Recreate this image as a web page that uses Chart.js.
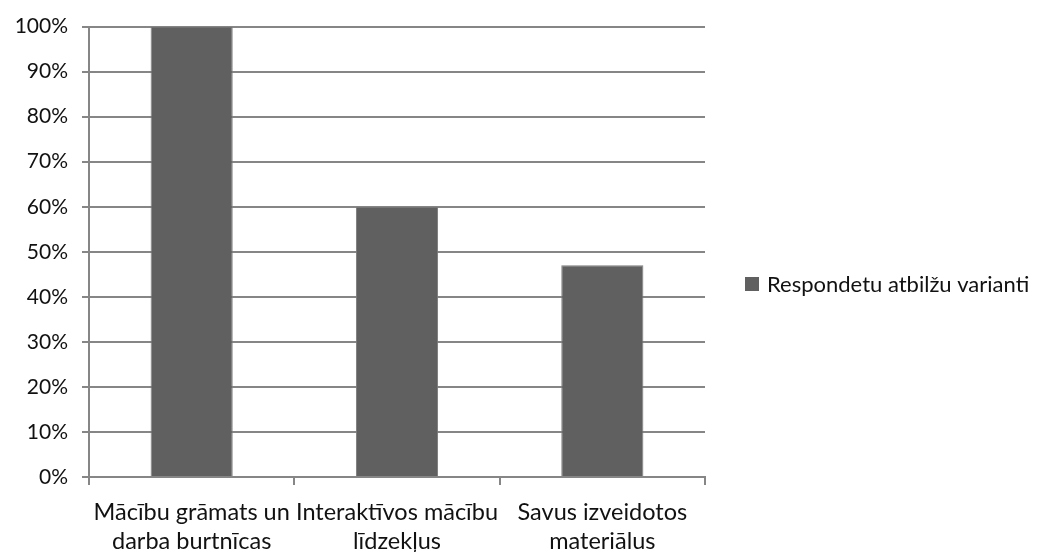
<!DOCTYPE html>
<html>
<head>
<meta charset="utf-8">
<script src="https://cdn.jsdelivr.net/npm/chart.js@4/dist/chart.umd.min.js"></script>
<style>
    html, body { margin: 0; padding: 0; background: #fff; }
    #wrap { width: 1049px; height: 552px; position: relative; }
</style>
</head>
<body>
<div id="wrap"><canvas id="surveyChart"></canvas></div>
<script>
// data
const categories = [
    ["Mācību grāmats un", "darba burtnīcas"],
    ["Interaktīvos mācību", "līdzekļus"],
    ["Savus izveidotos", "materiālus"]
];
const seriesName = "Respondetu atbilžu varianti";
const seriesValues = [100, 60, 47];
const yTicks = [0, 10, 20, 30, 40, 50, 60, 70, 80, 90, 100];

const gridGrey = "#868686";
const barColor = "#606060";
const fontFamily = "Lato, 'Open Sans', sans-serif";

// the built-in right legend gets squeezed, so draw it ourselves
const sideLegend = {
    id: "sideLegend",
    afterDraw(chart) {
        const c = chart.ctx;
        const ds = chart.data.datasets[0];
        const x = chart.chartArea.right + 40;
        const y = 284;
        c.save();
        c.fillStyle = ds.backgroundColor;
        c.fillRect(x, y - 7, 14, 14);
        c.fillStyle = "#111";
        c.font = "22px " + fontFamily;
        c.textBaseline = "middle";
        c.fillText(ds.label, x + 22, y + 1);
        c.restore();
    }
};

let ctx = document.getElementById("surveyChart").getContext("2d");

new Chart(ctx, {
    type: "bar",
    data: {
        labels: categories,
        datasets: [{
            label: seriesName,
            data: seriesValues,
            backgroundColor: barColor,
            borderColor: "#7c7c7c",
            borderWidth: 1,
            barPercentage: 0.8,
            categoryPercentage: 0.5
        }]
    },
    options: {
        responsive: true,
        maintainAspectRatio: false,
        animation: false,
        layout: { padding: { top: 9, right: 344, left: 0, bottom: 0 } },
        plugins: {
            tooltip: { enabled: false },
            legend: { display: false }
        },
        scales: {
            x: {
                grid: {
                    drawOnChartArea: false,
                    drawTicks: true,
                    tickLength: 8,
                    color: gridGrey,
                    lineWidth: 2
                },
                border: { color: gridGrey, width: 2 },
                ticks: {
                    color: "#111",
                    maxRotation: 0,
                    autoSkip: false,
                    padding: 12,
                    font: { family: fontFamily, size: 23.5, lineHeight: 1.27 }
                },
                afterFit: (axis) => { axis.height = 75; }
            },
            y: {
                min: 0,
                max: 100,
                afterBuildTicks: (axis) => {
                    axis.ticks = yTicks.map(v => ({ value: v }));
                },
                grid: {
                    color: gridGrey,
                    lineWidth: 2,
                    drawTicks: true,
                    tickLength: 7
                },
                border: { color: gridGrey, width: 2 },
                ticks: {
                    color: "#111",
                    padding: 14,
                    font: { family: fontFamily, size: 21 },
                    callback: (v) => v + "%"
                },
                afterFit: (axis) => { axis.width = 89; }
            }
        }
    },
    plugins: [sideLegend]
});
</script>
</body>
</html>
